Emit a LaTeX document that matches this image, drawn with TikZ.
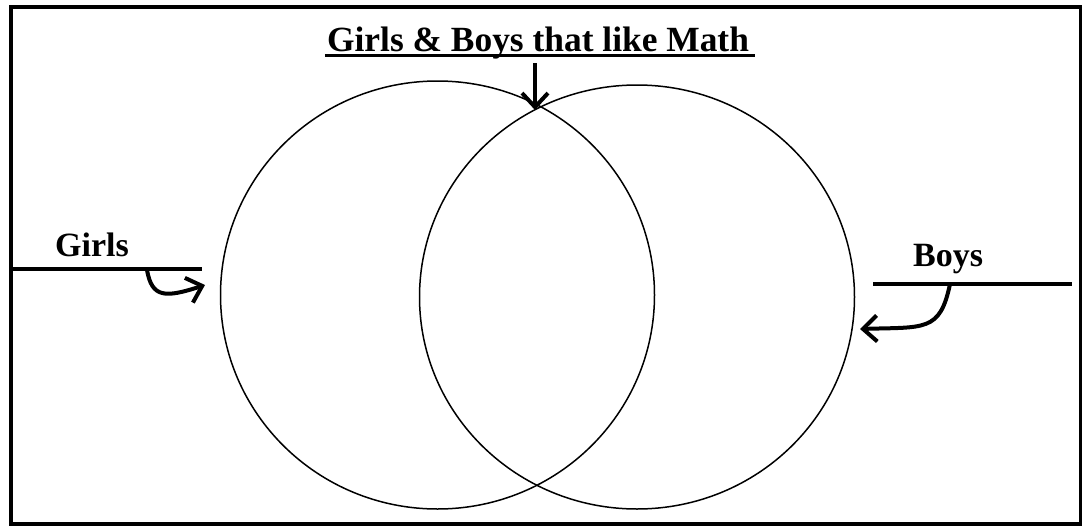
\documentclass[tikz,border=0pt]{standalone}
\usepackage{fontspec}
\setmainfont{Liberation Serif}
\usetikzlibrary{arrows.meta,shapes.geometric}
\begin{document}
\begin{tikzpicture}[x=1pt,y=-1pt,
  ring/.style={draw, ellipse, line width=1.5pt, inner sep=0pt},
  lbl/.style={font=\fontsize{34}{34}\selectfont\bfseries, inner sep=0pt},
  bar/.style={line width=4pt},
  pointer/.style={line width=4pt, -{Straight Barb[length=14pt,width=26pt,line width=4pt]}}]
\useasboundingbox (0,0) rectangle (1082,525);
\draw[line width=4pt] (11,7) rectangle (1080.5,523.5);
% circles
\node[ring, minimum width=434pt, minimum height=428pt] (G) at (437.5,295) {};
\node[ring, minimum width=435pt, minimum height=424pt] (B) at (637,297) {};
% title
\node[font=\fontsize{35.4}{36}\selectfont\bfseries, inner sep=0pt, anchor=base] (T) at (538,51) {Girls \& Boys that like Math};
\draw[line width=3pt] ([xshift=-2pt,yshift=-4pt]T.base west) -- ([xshift=6pt,yshift=-4pt]T.base east);
\coordinate (ts) at (535,63);
\coordinate (te) at (535,110);
\draw[pointer] (ts) -- (te);
% Girls
\node[lbl, anchor=base west] (GL) at (55,256) {Girls};
\coordinate (g1) at (11,269);
\coordinate (g2) at (202,269);
\draw[bar] (g1) -- (g2);
\coordinate (ga) at (147,270);
\coordinate (gb) at (205,285);
\draw[pointer] (ga) .. controls (152,298) and (165,298) .. (gb);
% Boys
\node[lbl, anchor=base west] (BL) at (913,266) {Boys};
\coordinate (b1) at (873,284);
\coordinate (b2) at (1072,284);
\draw[bar] (b1) -- (b2);
\coordinate (ba) at (950,284);
\coordinate (bb) at (860,329);
\draw[pointer] (ba) .. controls (940,332) and (925,327) .. (bb);
\end{tikzpicture}
\end{document}
